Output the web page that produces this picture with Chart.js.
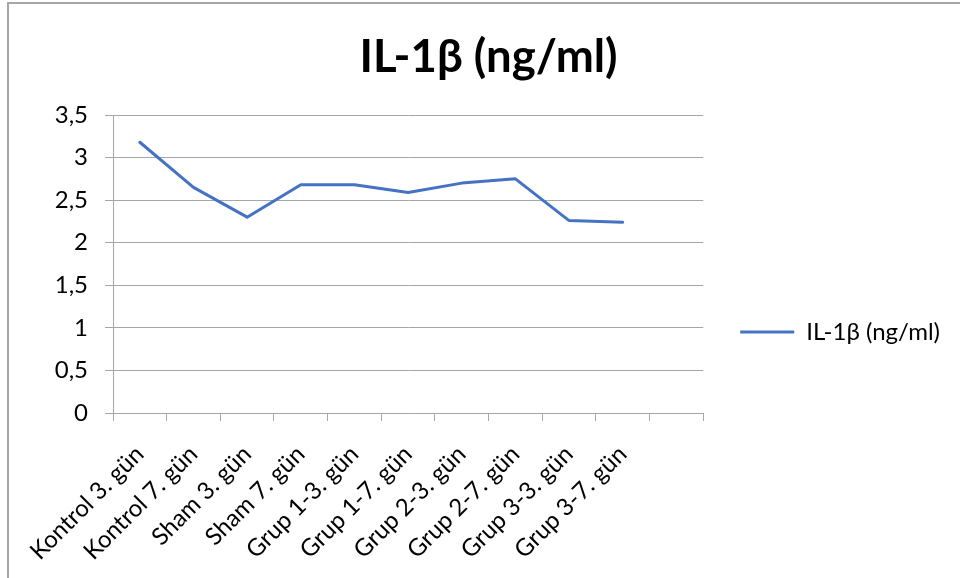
<!DOCTYPE html>
<html>
<head>
<meta charset="utf-8">
<script src="https://cdn.jsdelivr.net/npm/chart.js@4.4.0/dist/chart.umd.min.js"></script>
<style>
    html, body { margin: 0; padding: 0; background: #fff; overflow: hidden; width: 960px; height: 578px; }
    #frame { position: absolute; left: 7px; top: 2px; width: 1000px; height: 1000px; border-left: 2px solid #a6a6a6; border-top: 2px solid #a6a6a6; }
    #chart { position: absolute; left: 0; top: 0; }
</style>
</head>
<body>
<div id="frame"></div>
<canvas id="chart" width="960" height="664"></canvas>
<script>
// 그래프 데이터
const chartTitle = 'IL-1β (ng/ml)';
const seriesName = 'IL-1β (ng/ml)';
const categories = ['Kontrol 3. gün', 'Kontrol 7. gün', 'Sham 3. gün', 'Sham 7. gün',
    'Grup 1-3. gün', 'Grup 1-7. gün', 'Grup 2-3. gün', 'Grup 2-7. gün',
    'Grup 3-3. gün', 'Grup 3-7. gün', ''];
const values = [3.18, 2.65, 2.30, 2.68, 2.68, 2.59, 2.70, 2.75, 2.26, 2.24];
const yTickLabels = ['0', '0,5', '1', '1,5', '2', '2,5', '3', '3,5'];

const FONT = 'Lato, "Noto Sans", sans-serif';
const GRID = '#a6a6a6';

function drawChart() {
    return new Chart(document.getElementById('chart').getContext('2d'), {
        type: 'line',
        data: {
            labels: categories,
            datasets: [{
                label: seriesName,
                data: values,
                borderColor: '#4472C4',
                backgroundColor: '#4472C4',
                borderWidth: 3,
                borderJoinStyle: 'round',
                borderCapStyle: 'round',
                tension: 0,
                pointRadius: 0,
                fill: false
            }]
        },
        options: {
            responsive: false,
            animation: false,
            layout: { padding: { left: 27, right: 10, top: 0, bottom: 0 } },
            scales: {
                x: {
                    offset: true,
                    grid: { offset: true, drawOnChartArea: false, drawTicks: true, tickLength: 8, color: GRID },
                    border: { color: GRID },
                    ticks: {
                        autoSkip: false, maxRotation: 45, minRotation: 45,
                        color: '#000', padding: 19,
                        font: { family: FONT, size: 24 }
                    },
                    afterFit: (scale) => { scale.height = 664 - 413; }
                },
                y: {
                    min: 0, max: 3.5,
                    grid: { color: GRID, tickLength: 8 },
                    border: { color: GRID },
                    ticks: {
                        stepSize: 0.5, color: '#000', padding: 17,
                        font: { family: FONT, size: 24 },
                        callback: (value, index) => yTickLabels[index]
                    },
                    afterFit: (scale) => { scale.width = 86; }
                }
            },
            plugins: {
                title: {
                    display: true,
                    text: chartTitle,
                    color: '#000',
                    font: { family: FONT, size: 45.5, weight: 'bold' },
                    padding: { top: 30.2, bottom: 30.2 }
                },
                legend: {
                    position: 'right',
                    maxWidth: 320,
                    labels: {
                        usePointStyle: true,
                        pointStyle: 'line',
                        pointStyleWidth: 54,
                        padding: 37,
                        color: '#000',
                        font: { family: FONT, size: 24 }
                    }
                },
                tooltip: { enabled: false }
            }
        }
    });
}

// 폰트 로딩 후 차트 생성
Promise.all([
    document.fonts.load('24px Lato', chartTitle),
    document.fonts.load('bold 45.5px Lato', chartTitle),
    document.fonts.load('24px "Noto Sans"', 'β')
]).then(drawChart, drawChart);
</script>
</body>
</html>
